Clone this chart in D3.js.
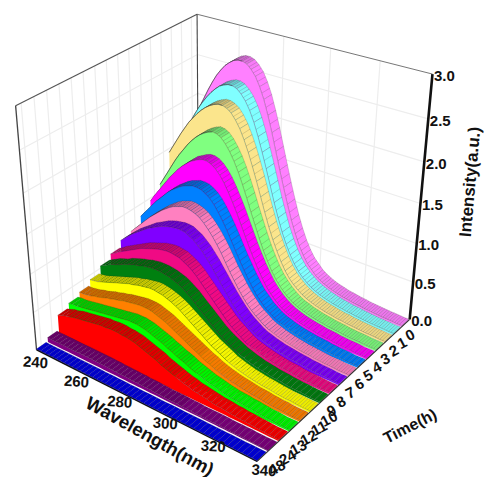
<!DOCTYPE html>
<html><head><meta charset="utf-8">
<style>html,body{margin:0;background:#fff}svg{display:block}text{font-family:"Liberation Sans",Arial,sans-serif;font-weight:700;fill:#111}</style>
<script src="https://cdn.jsdelivr.net/npm/d3@7/dist/d3.min.js"></script>
</head><body><svg id="c" width="484" height="477"></svg>
<script>
const timeLabels=["0","1","2","3","4","5","6","7","8","9","10","11","12","13","24","48"];
const wavelengths=d3.range(240,341,2);
const wavelengthTicks=[240,260,280,300,320,340];
const intensityTicks=[0,0.5,1,1.5,2,2.5,3];
const colors=["#ff80ff","#80ffff","#fbe58c","#80ff80","#ff00ff","#0080ff","#ff80c0","#8000ff","#f00a84","#008010","#ffff00","#ff8000","#00ff00","#ff0000","#800080","#0000ff"];
const s0=[1.60,1.72,1.84,1.96,2.08,2.20,2.31,2.41,2.49,2.56,2.61,2.65,2.67,2.67,2.65,2.60,2.53,2.42,2.28,2.10,1.90,1.68,1.46,1.25,1.05,.86,.70,.56,.45,.36,.30,.24,.20,.17,.145,.125,.11,.095,.085,.075,.065,.06,.05,.045,.04,.035,.03,.028,.025,.02,.02];
const s1=[1.50,1.61,1.72,1.83,1.94,2.04,2.13,2.21,2.28,2.34,2.39,2.42,2.44,2.44,2.42,2.37,2.30,2.20,2.07,1.91,1.73,1.54,1.34,1.14,.96,.79,.65,.53,.43,.35,.29,.24,.20,.17,.145,.125,.11,.095,.085,.075,.065,.06,.05,.045,.04,.035,.03,.028,.025,.02,.02];
const s2=[1.45,1.55,1.65,1.75,1.84,1.93,2.00,2.07,2.13,2.18,2.22,2.25,2.27,2.27,2.25,2.21,2.14,2.05,1.93,1.79,1.63,1.46,1.28,1.10,.93,.78,.65,.53,.43,.35,.29,.24,.20,.17,.145,.125,.11,.095,.085,.075,.065,.06,.05,.045,.04,.035,.03,.028,.025,.02,.02];
const s3=[1.10,1.20,1.30,1.40,1.50,1.59,1.67,1.75,1.82,1.88,1.93,1.97,2.00,2.02,2.01,1.98,1.92,1.84,1.74,1.62,1.48,1.33,1.17,1.02,.87,.73,.61,.50,.41,.34,.28,.23,.19,.16,.14,.12,.105,.09,.08,.07,.06,.055,.05,.04,.035,.03,.03,.025,.02,.02,.02];
const s4=[.96,1.05,1.13,1.21,1.29,1.37,1.44,1.51,1.57,1.62,1.67,1.70,1.73,1.75,1.75,1.73,1.69,1.63,1.55,1.45,1.34,1.22,1.09,.96,.83,.71,.60,.50,.41,.34,.28,.23,.19,.16,.14,.12,.105,.09,.08,.07,.06,.055,.05,.04,.035,.03,.03,.025,.02,.02,.02];
const s5=[.84,.91,.98,1.05,1.12,1.18,1.24,1.30,1.35,1.39,1.43,1.46,1.48,1.50,1.50,1.49,1.46,1.42,1.36,1.28,1.19,1.09,.98,.87,.76,.66,.56,.47,.39,.33,.27,.23,.19,.16,.14,.12,.105,.09,.08,.07,.06,.055,.05,.04,.035,.03,.03,.025,.02,.02,.02];
const s6=[.72,.78,.84,.90,.96,1.02,1.07,1.12,1.17,1.21,1.25,1.28,1.30,1.32,1.32,1.31,1.29,1.26,1.21,1.15,1.08,1.00,.91,.81,.71,.62,.53,.45,.38,.32,.27,.23,.19,.16,.14,.12,.105,.09,.08,.07,.06,.055,.05,.04,.035,.03,.03,.025,.02,.02,.02];
const s7=[.69,.74,.79,.84,.88,.92,.96,1.00,1.03,1.06,1.09,1.11,1.13,1.14,1.15,1.15,1.14,1.11,1.08,1.03,.98,.91,.84,.76,.68,.60,.52,.45,.38,.32,.27,.23,.19,.16,.14,.12,.105,.09,.08,.07,.06,.055,.05,.04,.035,.03,.03,.025,.02,.02,.02];
const s8=[.60,.63,.67,.70,.73,.76,.79,.82,.85,.87,.89,.91,.93,.94,.95,.95,.94,.93,.90,.87,.83,.78,.72,.66,.60,.54,.48,.42,.36,.31,.27,.23,.19,.16,.14,.12,.105,.09,.08,.07,.06,.055,.05,.04,.035,.03,.03,.025,.02,.02,.02];
const s9=[.53,.56,.59,.62,.64,.66,.69,.71,.73,.75,.76,.78,.79,.80,.80,.80,.79,.78,.76,.74,.71,.67,.63,.58,.53,.48,.43,.38,.33,.29,.25,.22,.19,.16,.14,.12,.105,.09,.08,.07,.06,.055,.05,.04,.035,.03,.03,.025,.02,.02,.02];
const s10=[.44,.45,.46,.48,.50,.52,.54,.56,.58,.60,.62,.63,.65,.66,.67,.68,.68,.67,.66,.64,.62,.59,.56,.52,.48,.44,.40,.36,.32,.28,.25,.22,.19,.16,.14,.12,.105,.09,.08,.07,.06,.055,.05,.04,.035,.03,.03,.025,.02,.02,.02];
const s11=[.37,.37,.38,.39,.41,.42,.44,.46,.47,.49,.50,.52,.53,.54,.55,.56,.56,.56,.55,.53,.51,.49,.46,.43,.40,.37,.34,.31,.28,.25,.22,.20,.17,.15,.13,.115,.10,.09,.08,.07,.06,.055,.05,.04,.035,.03,.03,.025,.02,.02,.02];
const s12=[.32,.33,.33,.34,.35,.36,.37,.38,.39,.40,.41,.42,.43,.44,.45,.46,.46,.46,.45,.44,.42,.40,.38,.36,.33,.31,.28,.26,.24,.21,.19,.17,.15,.13,.12,.105,.09,.08,.07,.065,.06,.05,.05,.04,.035,.03,.03,.025,.02,.02,.02];
const s13=[.26,.28,.30,.31,.33,.34,.35,.36,.37,.38,.39,.40,.40,.41,.41,.41,.40,.40,.39,.38,.36,.34,.32,.30,.28,.25,.23,.21,.19,.17,.15,.14,.12,.11,.10,.09,.08,.07,.065,.06,.05,.05,.04,.04,.035,.03,.03,.025,.02,.02,.02];
const s14=[.06,.06,.06,.06,.06,.06,.06,.06,.06,.06,.06,.06,.06,.06,.06,.055,.055,.05,.05,.05,.05,.045,.045,.04,.04,.04,.035,.035,.03,.03,.03,.03,.025,.025,.025,.02,.02,.02,.02,.02,.02,.015,.015,.015,.015,.015,.01,.01,.01,.01,.01];
const s15=[.012,.012,.012,.012,.012,.012,.012,.012,.012,.012,.012,.012,.012,.012,.012,.012,.012,.012,.012,.012,.012,.01,.01,.01,.01,.01,.01,.01,.01,.01,.01,.01,.01,.01,.01,.01,.01,.01,.01,.01,.01,.01,.01,.01,.01,.01,.01,.01,.01,.01,.01];
const series=[s0,s1,s2,s3,s4,s5,s6,s7,s8,s9,s10,s11,s12,s13,s14,s15];

// cube corner calibration: [x,y,z] in unit cube -> pixel
const frame=[[0,0,0,38,350],[1,0,0,256,462],[1,1,0,411,318],[0,1,0,197,238],[1,1,1,432,75],[0,1,1,198,14],[0,0,1,15,105]];
function fit(pts){const A=[],b=[];pts.forEach(([x,y,z,u,v])=>{A.push([x,y,z,1,0,0,0,0,-u*x,-u*y,-u*z]);b.push(u);A.push([0,0,0,0,x,y,z,1,-v*x,-v*y,-v*z]);b.push(v);});
 const n=11,M=d3.range(n).map(i=>d3.range(n+1).map(j=>j<n?d3.sum(A,(r)=>r[i]*r[j]):d3.sum(A,(r,k)=>r[i]*b[k])));
 for(let i=0;i<n;i++){let p=i;for(let r=i;r<n;r++)if(Math.abs(M[r][i])>Math.abs(M[p][i]))p=r;[M[i],M[p]]=[M[p],M[i]];
  for(let r=0;r<n;r++)if(r!==i){const f=M[r][i]/M[i][i];for(let c=i;c<=n;c++)M[r][c]-=f*M[i][c];}}
 return M.map((r,i)=>r[n]/r[i]);}
const P=fit(frame);
function proj(x,y,z){const w=P[8]*x+P[9]*y+P[10]*z+1;return[(P[0]*x+P[1]*y+P[2]*z+P[3])/w,(P[4]*x+P[5]*y+P[6]*z+P[7])/w];}
const xS=d3.scaleLinear().domain([240,340]).range([0,1]);
const zS=d3.scaleLinear().domain([0,3]).range([0,1]);
const yS=d3.scaleLinear().domain([15,-1]).range([0,1]); // series index -> depth (front edge)
const ribbon=0.84;
const pt=(w,i,v,d=0)=>proj(xS(w),yS(i)+d,zS(v));
const svg=d3.select("#c");
const line=d3.line();
const poly=p=>line(p)+"Z";

// walls
const grid=svg.append("g").attr("stroke","#ededed").attr("stroke-width",1.2).attr("fill","none");
const segs=[];
intensityTicks.slice(1,-1).forEach(v=>{segs.push([proj(0,0,zS(v)),proj(0,1,zS(v)),proj(1,1,zS(v))]);});
wavelengthTicks.slice(1,-1).forEach(w=>{segs.push([proj(xS(w),0,0),proj(xS(w),1,0),proj(xS(w),1,1)]);});
timeLabels.forEach((t,i)=>{const y=yS(i)+ribbon/32;segs.push([proj(1,y,0),proj(0,y,0),proj(0,y,1)]);});
grid.selectAll("path").data(segs).join("path").attr("d",d=>line(d));
const frameLines=[[[0,0,0],[0,0,1],"#444",1.3],[[0,0,1],[0,1,1],"#555",1.2],[[0,1,1],[1,1,1],"#777",1],[[0,1,0],[0,1,1],"#444",1.1]];
svg.append("g").selectAll("path").data(frameLines).join("path").attr("fill","none")
 .attr("stroke",d=>d[2]).attr("stroke-width",d=>d[3]).attr("d",d=>line([proj(...d[0]),proj(...d[1])]));

// ribbons, back to front
series.forEach((vals,i)=>{
 const g=svg.append("g"),col=colors[i],w0=ribbon/16,peak=d3.max(vals);
 const quads=[],mesh=[];
 for(let k=0;k<vals.length-1;k++){
  const slope=(vals[k]-vals[k+1])/0.06; // falling slope decides shading
  let dark=0.55*(1-Math.min(1,Math.max(0,slope)));
  if(vals[k]<.5*peak) dark*=.4;
  const a=pt(wavelengths[k],i,vals[k],w0),b=pt(wavelengths[k+1],i,vals[k+1],w0),c=pt(wavelengths[k+1],i,vals[k+1]),e=pt(wavelengths[k],i,vals[k]);
  quads.push({p:[a,b,c,e],f:d3.color(col).darker(dark).formatHex()});
  mesh.push([[(a[0]+b[0])/2,(a[1]+b[1])/2],[(c[0]+e[0])/2,(c[1]+e[1])/2]]); // mesh cross-line of the quad
 }
 g.selectAll(".q").data(quads).join("path").attr("class","q").attr("d",d=>poly(d.p)).attr("fill",d=>d.f)
  .attr("stroke","#222").attr("stroke-opacity",.36).attr("stroke-width",.45);
 g.selectAll(".m").data(mesh).join("path").attr("class","m").attr("d",d=>line(d)).attr("fill","none")
  .attr("stroke","#222").attr("stroke-opacity",.36).attr("stroke-width",.45);
 const front=vals.map((v,k)=>pt(wavelengths[k],i,v));
 const floor=wavelengths.map(w=>pt(w,i,0)).reverse();
 g.append("path").attr("d",poly(front.concat(floor))).attr("fill",col);
 g.append("path").attr("d",line(front)).attr("fill","none").attr("stroke","#222").attr("stroke-opacity",.4).attr("stroke-width",.5);
 const e=vals.length-1;
 g.append("path").attr("d",poly([pt(340,i,vals[e]),pt(340,i,vals[e],w0),pt(340,i,0,w0),pt(340,i,0)])).attr("fill",d3.color(col).darker(.5));
 if(i<4) g.append("path").attr("d",line(front.slice(0,14))).attr("fill","none").attr("stroke","#333").attr("stroke-width",.5);
});

// axes
const ax=svg.append("g").attr("fill","none").attr("stroke","#111");
ax.append("path").attr("d",line([proj(1,1,0),proj(1,1,1)])).attr("stroke-width",2.6);
ax.append("path").attr("d",line([proj(1,0,0),proj(1,1,0)])).attr("stroke-width",1.2).attr("stroke","#333");
ax.append("path").attr("d",line([proj(0,0,0),proj(1,0,0)])).attr("stroke-width",1.2).attr("stroke","#111");

// tick labels
const fs=15;
svg.append("g").selectAll("text").data(wavelengthTicks).join("text").text(d=>d).attr("font-size",fs)
 .attr("text-anchor","middle").attr("dominant-baseline","central")
 .attr("transform",d=>{const [x,y]=proj(xS(d),0,0),f=xS(d);return `translate(${x-1+8*f},${y+12-3.5*f}) rotate(4)`;});
svg.append("g").selectAll("text").data(intensityTicks).join("text").text(d=>d.toFixed(1)).attr("font-size",fs)
 .attr("dominant-baseline","central")
 .attr("transform",d=>{const [x,y]=proj(1,1,zS(d));return `translate(${x+1.5},${y+1.5})`;});
svg.append("g").selectAll("text").data(timeLabels).join("text").text(d=>d).attr("font-size",fs)
 .attr("text-anchor","middle").attr("dominant-baseline","central")
 .attr("transform",(d,i)=>{const [x,y]=proj(1,yS(i)+ribbon/32,0);const two=d.length>1;return `translate(${x+(two?15:5+.3*i)},${y+(two?10:11)}) rotate(-28)`;});

// axis titles
svg.append("text").text("Wavelength(nm)").attr("font-size",18.5).attr("text-anchor","middle").attr("dominant-baseline","central").attr("transform","translate(150,436) rotate(29)");
svg.append("text").text("Time(h)").attr("font-size",16).attr("text-anchor","middle").attr("dominant-baseline","central").attr("transform","translate(410,426) rotate(-27)");
svg.append("text").text("Intensity(a.u.)").attr("font-size",17).attr("text-anchor","middle").attr("dominant-baseline","central").attr("transform","translate(470,182) rotate(-85)");
</script></body></html>
